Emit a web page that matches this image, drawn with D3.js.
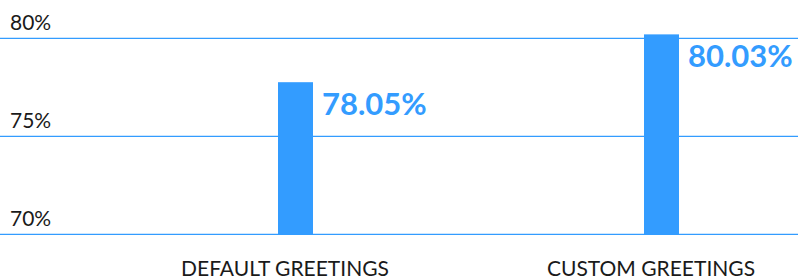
<!DOCTYPE html>
<html>
<head>
<meta charset="utf-8">
<script src="https://cdn.jsdelivr.net/npm/d3@7"></script>
<style>
  html, body { margin: 0; padding: 0; background: #fff; }
  svg { display: block; font-family: Lato, "Open Sans", sans-serif; }
</style>
</head>
<body>
<svg id="chart" width="798" height="280"></svg>
<script>
const categories = ["DEFAULT GREETINGS", "CUSTOM GREETINGS"];
const barValues = [77.76, 80.2];
const valueLabels = ["78.05%", "80.03%"];
const yTicks = [70, 75, 80];
const yTickLabels = ["70%", "75%", "80%"];

const W = 798, H = 280;
const svg = d3.select("#chart");
const blue = "#339cff";

const y = d3.scaleLinear().domain([70, 80]).range([234.3, 38.3]);
const x = d3.scaleBand().domain(categories).range([102, 834]);

// gridlines
svg.append("g").selectAll("line").data(yTicks).join("line")
  .attr("x1", 0).attr("x2", W)
  .attr("y1", d => y(d)).attr("y2", d => y(d))
  .attr("stroke", blue).attr("stroke-width", 1.3);

// tick labels
svg.append("g").selectAll("text").data(yTicks).join("text")
  .attr("x", 10).attr("y", d => y(d) - 8)
  .attr("font-size", 21).attr("fill", "#1a1a1a")
  .text((d, i) => yTickLabels[i]);

const barW = 35, barOff = 10.5;
// bars
svg.append("g").selectAll("rect").data(categories).join("rect")
  .attr("x", d => x(d) + x.bandwidth() / 2 + barOff - barW / 2)
  .attr("width", barW)
  .attr("y", (d, i) => y(barValues[i]))
  .attr("height", (d, i) => y(70) - y(barValues[i]))
  .attr("fill", blue);

// value labels
svg.append("g").selectAll("text").data(categories).join("text")
  .attr("x", d => x(d) + x.bandwidth() / 2 + barOff + barW / 2 + 9)
  .attr("y", (d, i) => y(barValues[i]) + 33)
  .attr("font-size", 31).attr("font-weight", "bold").attr("fill", blue)
  .text((d, i) => valueLabels[i]);

// category labels
svg.append("g").selectAll("text").data(categories).join("text")
  .attr("x", d => x(d) + x.bandwidth() / 2)
  .attr("y", 275.7)
  .attr("text-anchor", "middle")
  .attr("font-size", 21).attr("fill", "#1a1a1a")
  .text(d => d);
</script>
</body>
</html>
